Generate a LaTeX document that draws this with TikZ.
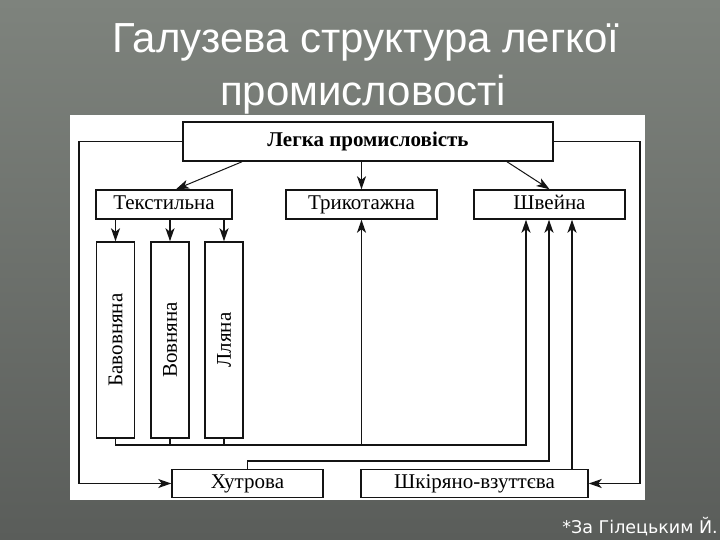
\documentclass[tikz,border=0pt]{standalone}
\usepackage{fontspec}
\setmainfont{Liberation Serif}
\newfontfamily\titlefont{Liberation Sans}
\newfontfamily\notefont{DejaVu Sans}
\usetikzlibrary{arrows.meta}
\definecolor{bgtop}{RGB}{126,131,125}
\definecolor{bgbot}{RGB}{90,93,90}
\definecolor{ink}{RGB}{20,20,20}
\begin{document}
\begin{tikzpicture}[
    x=1pt, y=-1pt,
    box/.style={draw=ink,line width=1.5pt,fill=white,inner sep=0pt,font=\fontsize{21}{24}\selectfont},
    hbox/.style={box,text height=14pt,text depth=4pt},
    vbox/.style={box,minimum width=38,minimum height=196},
    arr/.style={-{Stealth[length=13pt,width=9pt,inset=3.5pt]},line width=1.4pt,draw=ink},
    line/.style={line width=1.4pt,draw=ink},
    ttl/.style={font=\titlefont\fontsize{42}{50}\selectfont,anchor=base,inner sep=0pt,text=white},
    every node/.style={inner sep=0pt}
]
\useasboundingbox (0,0) rectangle (720,540);

% Тло слайда
\shade[top color=bgtop,bottom color=bgbot] (0,0) rectangle (720,540);
\fill[white] (70,115) rectangle (645,500);

% Заголовок
\node[ttl] (t1) at (366,53) {Галузева структура легкої};
\node[ttl] (t2) at (363,106) {промисловості};

% Верхній рівень
\node[hbox,minimum width=370,minimum height=39,font=\fontsize{21}{24}\selectfont\bfseries] (top) at (368,141.5) {Легка промисловість};

% Другий рівень
\node[hbox,minimum width=136,minimum height=29] (tex) at (164,204.5) {Текстильна};
\node[hbox,minimum width=151,minimum height=29] (tri) at (361.5,204.5) {Трикотажна};
\node[hbox,minimum width=151,minimum height=29] (shv) at (549.5,204.5) {Швейна};

% Галузі текстильної
\node[vbox] (bav) at (115.5,340) {\rotatebox{90}{Бавовняна}};
\node[vbox] (vov) at (170,340) {\rotatebox{90}{Вовняна}};
\node[vbox] (lly) at (224,340) {\rotatebox{90}{Лляна}};

% Нижній рівень
\node[hbox,minimum width=151,minimum height=28] (fur) at (247.5,483.5) {Хутрова};
\node[hbox,minimum width=227,minimum height=28] (lea) at (474.5,483.5) {Шкіряно-взуттєва};

% Точки зламу
\coordinate (lc) at (79,483.5);
\coordinate (rc) at (640,483.5);
\coordinate (b1) at (526,445);
\coordinate (b2) at (549,461);
\coordinate (b3) at (572,469.5);

% Від легкої промисловості
\draw[arr,line width=1pt] ([xshift=-126]top.south) -- ([xshift=12]tex.north);
\draw[arr] (tri.north |- top.south) -- (tri.north);
\draw[arr,line width=1pt] ([xshift=139]top.south) -- (shv.north);
\draw[arr] (top.west) -| (lc) -- (fur.west);
\draw[arr] (top.east) -| (rc) -- (lea.east);

% Текстильна
\draw[arr] (bav.north |- tex.south) -- (bav.north);
\draw[arr] (vov.north |- tex.south) -- (vov.north);
\draw[arr] (lly.north |- tex.south) -- (lly.north);

% Зворотні зв'язки
\draw[arr] (bav.south) |- (b1) -- (b1 |- shv.south);
\draw[line] (vov.south) -- (vov.south |- b1);
\draw[line] (lly.south) -- (lly.south |- b1);
\draw[arr] (tri.south |- b1) -- (tri.south);
\draw[arr] (fur.north) |- (b2) -- (b2 |- shv.south);
\draw[arr] (b3) -- (b3 |- shv.south);

% Джерело
\node[font=\notefont\fontsize{17.5}{20}\selectfont,text=white,anchor=base east] (src) at (718,533) {*За Гілецьким Й.};

\end{tikzpicture}
\end{document}
